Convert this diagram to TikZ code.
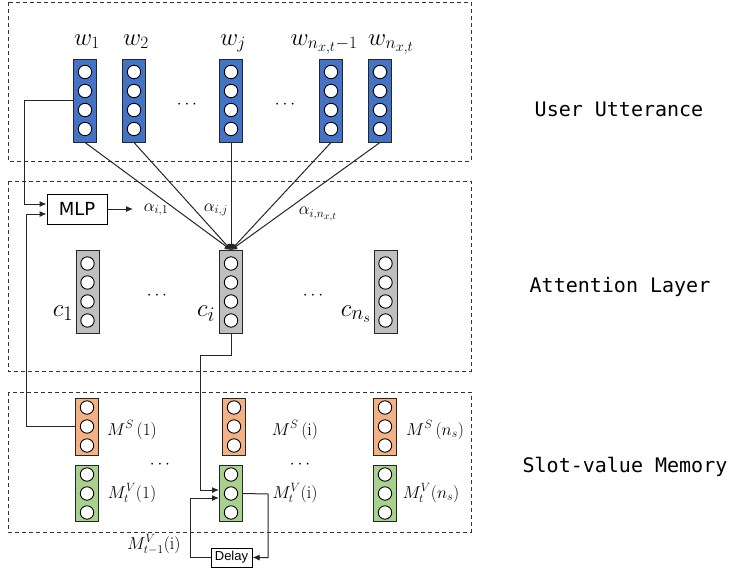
\documentclass[tikz,border=0pt]{standalone}
\usepackage{fontspec}
\usetikzlibrary{arrows.meta,calc}
\newfontfamily\monofont{DejaVu Sans Mono}
\newfontfamily\dvsans{DejaVu Sans}
\newfontfamily\arialfont{Liberation Sans}
\DeclareMathSizes{26}{26}{19}{14}
\DeclareMathSizes{28}{28}{21}{15}
\DeclareMathSizes{17.5}{17.5}{13}{10}
\definecolor{wblue}{HTML}{4472C4}
\definecolor{cgray}{HTML}{BFBFBF}
\definecolor{sorange}{HTML}{F4B183}
\definecolor{vgreen}{HTML}{A9D18E}
\tikzset{
  vbox/.style={draw=black!85, line width=1pt, minimum width=23pt, minimum height=83pt, inner sep=0pt},
  mbox/.style={draw=black!85, line width=1pt, minimum width=23pt, minimum height=57pt, inner sep=0pt},
  cell/.style={draw=black, fill=white, line width=0.9pt},
  region/.style={draw=black!80, dashed, dash pattern=on 4pt off 3pt, line width=1pt},
  conn/.style={draw=black!85, line width=1pt},
  arr/.style={conn, -{Latex[length=7pt,width=6pt]}},
  layerlabel/.style={font=\monofont\fontsize{20}{24}\selectfont, inner sep=0pt},
  wlabel/.style={font=\fontsize{26}{30}\selectfont, inner sep=0pt, anchor=base},
  clabel/.style={font=\fontsize{28}{32}\selectfont, inner sep=0pt, anchor=base},
  mlabel/.style={font=\fontsize{18}{22}\selectfont, inner sep=0pt, anchor=base},
  alabel/.style={font=\fontsize{17.5}{21}\selectfont, inner sep=0pt},
  dotslabel/.style={font=\fontsize{16}{18}\selectfont, inner sep=0pt},
}
\begin{document}
\begin{tikzpicture}[x=1pt,y=-1pt]
\useasboundingbox (0,0) rectangle (731,571);
\fill[white] (0,0) rectangle (731,571);
% dashed regions
\draw[region] (8,2) rectangle (471,161);
\draw[region] (8,181) rectangle (471,371);
\draw[region] (8,392) rectangle (471,532);
% layer labels
\node[layerlabel] (lu) at (619,109) {User Utterance};
\node[layerlabel] (la) at (620,287) {Attention Layer};
\node[layerlabel] (ls) at (625,467) {Slot-value Memory};
% word vectors
\node[vbox, fill=wblue] (w1) at (85,100.5) {};
\node[vbox, fill=wblue] (w2) at (134,100.5) {};
\node[vbox, fill=wblue] (wj) at (231,100.5) {};
\node[vbox, fill=wblue] (wn1) at (331,100.5) {};
\node[vbox, fill=wblue] (wn) at (380,100.5) {};
% attention vectors
\node[vbox, fill=cgray] (c1) at (87.5,292) {};
\node[vbox, fill=cgray] (ci) at (231,292) {};
\node[vbox, fill=cgray] (cn) at (385.5,292) {};
\foreach \n in {w1,w2,wj,wn1,wn,c1,ci,cn}
  \foreach \d in {-28.5,-9.5,9.5,28.5}
    \draw[cell] ([yshift=\d pt]\n.center) circle (6.7);
% memory vectors
\node[mbox, fill=sorange] (ms1) at (87,426.5) {};
\node[mbox, fill=sorange] (msi) at (234,426.5) {};
\node[mbox, fill=sorange] (msn) at (385,426.5) {};
\node[mbox, fill=vgreen, minimum height=56pt] (mv1) at (87,493.5) {};
\node[mbox, fill=vgreen, minimum height=56pt] (mvi) at (231,493.5) {};
\node[mbox, fill=vgreen, minimum height=56pt] (mvn) at (385,493.5) {};
\foreach \n in {ms1,msi,msn,mv1,mvi,mvn}
  \foreach \d in {-19,0,19}
    \draw[cell] ([yshift=\d pt]\n.center) circle (6.7);
% word labels
\node[wlabel] (lw1) at (87,45) {$w_1$};
\node[wlabel] (lw2) at (136,45) {$w_2$};
\node[wlabel] (lwj) at (233,45) {$w_j$};
\node[wlabel] (lwn1) at (324,45) {$w_{n_{x,t}-1}$};
\node[wlabel] (lwn) at (391,45) {$w_{n_{x,t}}$};
% dots
\node[dotslabel] (d1) at (187,105) {$\cdots$};
\node[dotslabel] (d2) at (285,105) {$\cdots$};
\node[dotslabel] (d3) at (157,296) {$\cdots$};
\node[dotslabel] (d4) at (313,296) {$\cdots$};
\node[dotslabel] (d5) at (160,465) {$\cdots$};
\node[dotslabel] (d6) at (300,465) {$\cdots$};
% c labels
\node[clabel] (lc1) at (63,316) {$c_1$};
\node[clabel] (lci) at (206,316) {$c_i$};
\node[clabel] (lcn) at (356,316) {$c_{n_s}$};
% memory labels
\node[mlabel] (lms1) at (132,435) {$M^{S}\,(1)$};
\node[mlabel] (lmsi) at (295,435) {$M^{S}\,(\mathrm{i})$};
\node[mlabel] (lmsn) at (435,435) {$M^{S}\,(n_s)$};
\node[mlabel] (lmv1) at (132,498) {$M^{V}_{t}(1)$};
\node[mlabel] (lmvi) at (295,498) {$M^{V}_{t}(\mathrm{i})$};
\node[mlabel] (lmvn) at (431,498) {$M^{V}_{t}(n_s)$};
\node[mlabel] (lmvp) at (154,549) {$M^{V}_{t-1}(\mathrm{i})$};
% MLP
\node[draw=black, line width=1pt, minimum width=60pt, minimum height=30pt, inner sep=0pt,
      font=\dvsans\fontsize{18}{20}\selectfont] (mlp) at (77,209) {MLP};
\coordinate (aout) at (133,209);
\draw[arr] (mlp.east) -- (aout);
\node[alabel] (a1) at (156,210) {$\alpha_{i,1}$};
\node[alabel] (aj) at (216,210) {$\alpha_{i,j}$};
\node[alabel] (an) at (318,214) {$\alpha_{i,n_{x,t}}$};
% attention connectors
\foreach \n in {w1,w2,wj,wn1,wn}
  \draw[conn, -{Latex[length=6pt,width=7pt]}] (\n.south) -- (ci.north);
% MLP inputs
\coordinate (k1) at (24,204);
\draw[arr] (w1.west) -| (k1) -- (k1 -| mlp.west);
\coordinate (k2) at (26,214);
\draw[arr] (ms1.west) -| (k2) -- (k2 -| mlp.west);
% ci to memory
\coordinate (k3) at (231,355);
\coordinate (k4) at (200,355);
\coordinate (k5) at (200,490);
\draw[arr] (ci.south) -- (k3) -- (k4) -- (k5) -- (k5 -| mvi.west);
% delay loop
\node[draw=black, line width=1pt, minimum width=41pt, minimum height=19pt, inner sep=0pt,
      font=\arialfont\fontsize{13}{15}\selectfont] (delay) at (231.5,557.5) {Delay};
\coordinate (k6) at (268,494);
\draw[arr] (mvi.east) -- (k6) |- (delay.east);
\coordinate (k7) at (190,498);
\draw[arr] (delay.west) -| (k7) -- (k7 -| mvi.west);
\end{tikzpicture}
\end{document}
